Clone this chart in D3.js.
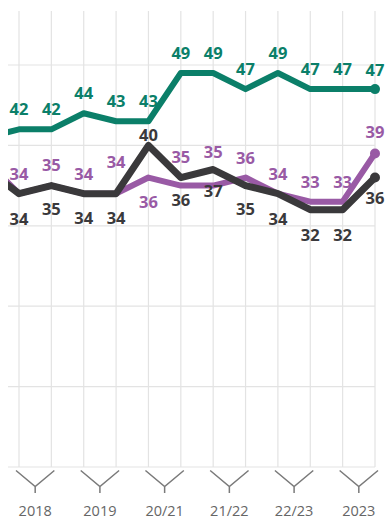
<!DOCTYPE html>
<html>
<head>
<meta charset="utf-8">
<script src="https://cdn.jsdelivr.net/npm/d3@7"></script>
<style>
  html, body { margin: 0; padding: 0; background: #fff; }
  svg { display: block; font-family: "Open Sans", "Noto Sans", sans-serif; }
</style>
</head>
<body>
<svg id="chart" width="388" height="520"></svg>
<script>
// Survey periods: two readings per period, grouped under one axis label
const groupLabels = ['2018', '2019', '20/21', '21/22', '22/23', '2023'];
const pointsPerGroup = 2;

// Readings per series (the first value is the tail of the preceding period, cut off at the left edge)
const greenValues  = [41, 42, 42, 44, 43, 43, 49, 49, 47, 49, 47, 47, 47];
const purpleValues = [38, 34, 35, 34, 34, 36, 35, 35, 36, 34, 33, 33, 39];
const darkValues   = [37, 34, 35, 34, 34, 40, 36, 37, 35, 34, 32, 32, 36];

// Value-label placement (vertical offset of the label centre from its point, px)
const greenLabelDy  = [0, -20, -20, -20, -20, -20, -20, -20, -20, -20, -20, -20, -19];
const purpleLabelDy = [0, -20, -20, -20, -32, 25, -28, -33, -19, -20, -20, -20, -21];
const darkLabelDy   = [0, 25, 24, 24, 24, -10, 23, 22, 24, 25, 25, 25, 21];

const yTicks = [0, 10, 20, 30, 40, 50];

const series = [
  { values: greenValues,  dy: greenLabelDy,  color: '#0b7f69', width: 6 },
  { values: purpleValues, dy: purpleLabelDy, color: '#995aa5', width: 6 },
  { values: darkValues,   dy: darkLabelDy,   color: '#3a393b', width: 7 }
];

const svg = d3.select('#chart');
const plotLeft = 8, plotTop = 11;

const x = d3.scaleLinear().domain([0, 11]).range([19, 375]);
const y = d3.scaleLinear().domain([0, 50]).range([467, 65]);
const idx = i => i - 1; // array index -> period index (lead-in sits at -1)

// Grid
const grid = svg.append('g').attr('stroke', '#e3e3e3').attr('stroke-width', 1.2);
grid.selectAll('line.h').data(yTicks).join('line')
  .attr('class', 'h')
  .attr('x1', plotLeft).attr('x2', x(11))
  .attr('y1', d => y(d)).attr('y2', d => y(d));
grid.selectAll('line.v').data(d3.range(12)).join('line')
  .attr('class', 'v')
  .attr('x1', d => x(d)).attr('x2', d => x(d))
  .attr('y1', plotTop).attr('y2', y(0));

// Category axis: a forked tick spanning each pair of readings
const axis = svg.append('g');
const groups = groupLabels.map((label, g) => {
  const a = x(g * pointsPerGroup), b = x(g * pointsPerGroup + 1);
  return { label, a, b, c: (a + b) / 2 };
});
const fork = axis.selectAll('g.fork').data(groups).join('g').attr('class', 'fork');
fork.append('path')
  .attr('d', d => `M${d.a - 3},${y(0) + 3.5}L${d.c},${y(0) + 19.5}L${d.b + 3},${y(0) + 3.5}M${d.c},${y(0) + 19.5}V${y(0) + 26}`)
  .attr('fill', 'none').attr('stroke', '#7a7a7a').attr('stroke-width', 1.5);
fork.append('text')
  .attr('x', d => d.c).attr('y', 516)
  .attr('text-anchor', 'middle')
  .attr('font-size', 14.5).attr('fill', '#666')
  .text(d => d.label);

// Lines, clipped at the left edge of the plot
svg.append('clipPath').attr('id', 'plotClip')
  .append('rect').attr('x', plotLeft).attr('y', 0).attr('width', 388 - plotLeft).attr('height', 520);

const line = d3.line().x((d, i) => x(idx(i))).y(d => y(d));
const lines = svg.append('g').attr('clip-path', 'url(#plotClip)');
series.forEach(s => {
  lines.append('path')
    .datum(s.values)
    .attr('d', line)
    .attr('fill', 'none')
    .attr('stroke', s.color)
    .attr('stroke-width', s.width)
    .attr('stroke-linejoin', 'round');
});

// End markers
series.forEach(s => {
  const last = s.values.length - 1;
  svg.append('circle')
    .attr('cx', x(idx(last))).attr('cy', y(s.values[last]))
    .attr('r', 5).attr('fill', s.color);
});

// Value labels
const fontSize = 16.5;
series.forEach(s => {
  const pts = s.values.map((v, i) => ({ v, i, dy: s.dy[i] })).filter(d => d.i > 0);
  svg.append('g').selectAll('text').data(pts).join('text')
    .attr('x', d => x(idx(d.i)))
    .attr('y', d => y(d.v) + d.dy + fontSize * 0.357)
    .attr('text-anchor', 'middle')
    .attr('font-size', fontSize)
    .attr('font-weight', 700)
    .attr('fill', s.color)
    .text(d => d.v);
});
</script>
</body>
</html>
